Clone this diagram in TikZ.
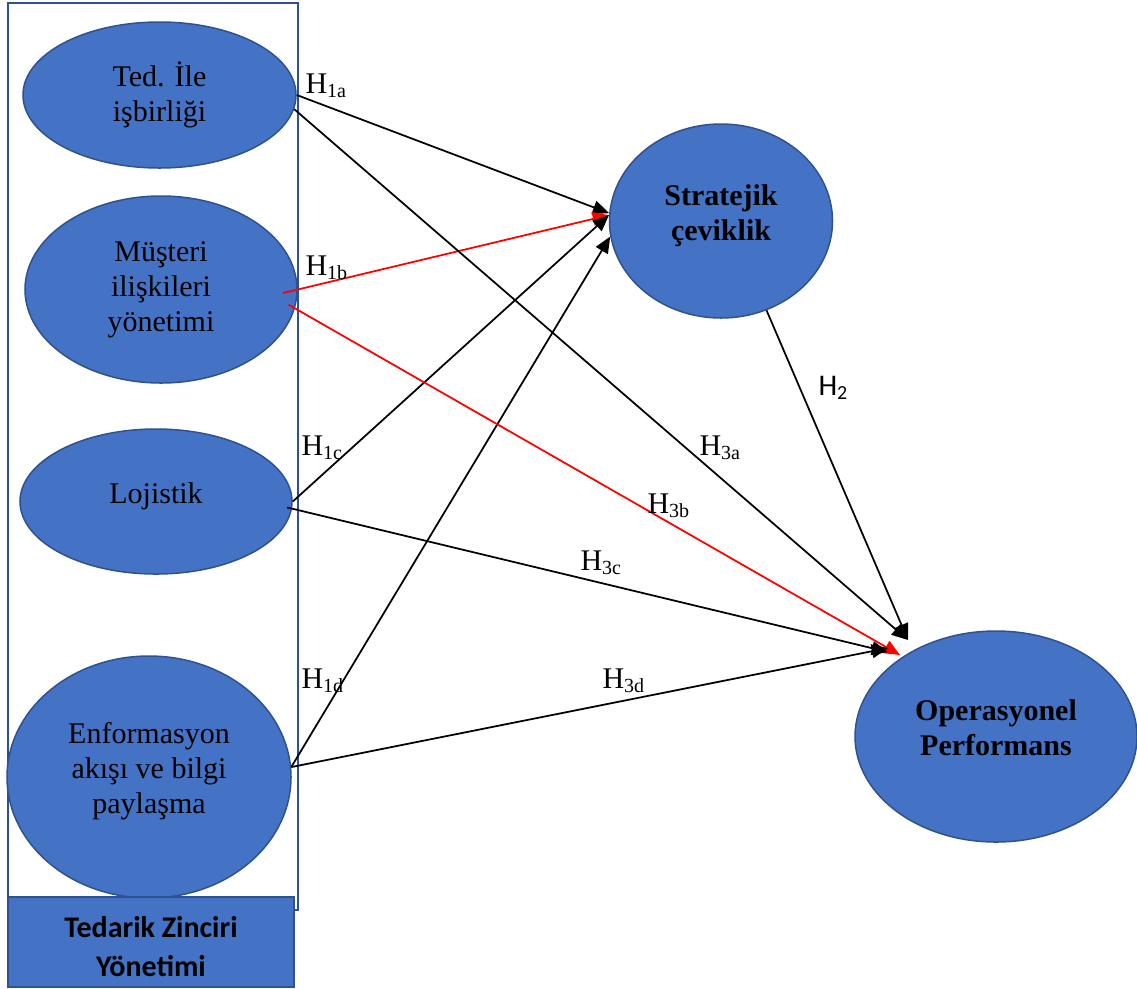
\documentclass[tikz,border=0pt]{standalone}
\usepackage{fontspec}
\setmainfont{Liberation Serif}
\newfontfamily\calibri{Carlito}
\usepackage{tikz}
\usetikzlibrary{shapes.geometric,arrows.meta}
\definecolor{nodeblue}{HTML}{4472C4}
\definecolor{edgeblue}{HTML}{2F528F}
\tikzstyle{construct} = [ellipse, draw=edgeblue, fill=nodeblue, line width=0.6pt,
    align=center, inner sep=0pt, font=\fontsize{12}{14}\selectfont]
\tikzstyle{hyp} = [draw, line width=0.7pt, -{Triangle[length=6.5pt,width=5.5pt]}]
\tikzstyle{hlabel} = [anchor=base west, inner sep=0pt, font=\fontsize{12}{14}\selectfont]

\begin{document}
\begin{tikzpicture}[x=0.4pt, y=-0.4pt]
		\useasboundingbox (0,0) rectangle (1137,988);
		% supply chain group
		\node [draw=edgeblue, line width=0.8pt, inner sep=0pt,
			minimum width=116pt, minimum height=362.8pt] (scm) at (153,456.5) {};
		
		\node [construct, minimum width=109.2pt, minimum height=58.4pt] (ted) at (159.5,95) {Ted. İle\\
			işbirliği};
		\node [construct, minimum width=108.8pt, minimum height=74.8pt] (mus) at (161,289.5) {Müşteri\\
			ilişkileri\\
			yönetimi};
		\node [construct, minimum width=108.8pt, minimum height=58pt, text depth=7pt] (loj) at (156,501.5) {Lojistik};
		\node [construct, minimum width=113.6pt, minimum height=96.8pt, text depth=7pt] (enf) at (149,777) {Enformasyon\\
			akışı ve bilgi\\
			paylaşma};
		\node [construct, minimum width=89.2pt, minimum height=77.6pt, text depth=7pt,
			font=\fontsize{12}{14}\selectfont\bfseries] (strat) at (721,221) {Stratejik\\
			çeviklik};
		\node [construct, minimum width=112.8pt, minimum height=84.4pt, text depth=7pt,
			font=\fontsize{12}{14}\selectfont\bfseries] (op) at (996,736.5) {Operasyonel\\
			Performans};
		
		\draw [hyp] (ted.east) -- (strat.176);
		\draw [hyp, red, shorten <=-6pt] (mus.east) -- (strat.177);
		\draw [hyp] (loj.east) -- (strat.177);
		\draw [hyp] (enf.4) -- (strat.188);
		\draw [hyp] (ted.354) -- ([shift={(-88,-96.5)}]op.center);
		\draw [hyp, red, shorten <=-3pt] (mus.352) -- ([shift={(-96,-81.5)}]op.center);
		\draw [hyp, shorten <=-2pt] (loj.357) -- ([shift={(-108,-84.5)}]op.center);
		\draw [hyp] (enf.4) -- ([shift={(-108,-88.5)}]op.center);
		\draw [hyp] (strat.297) -- ([shift={(-88,-96.5)}]op.center);
		
		\node [hlabel] (h1a) at (305,93) {H\textsubscript{1a}};
		\node [hlabel] (h1b) at (305,275) {H\textsubscript{1b}};
		\node [hlabel] (h1c) at (301,455) {H\textsubscript{1c}};
		\node [hlabel] (h1d) at (301,688) {H\textsubscript{1d}};
		\node [hlabel, font=\calibri\fontsize{12}{14}\selectfont] (h2) at (818,395) {H\textsubscript{2}};
		\node [hlabel] (h3a) at (699,455) {H\textsubscript{3a}};
		\node [hlabel] (h3b) at (647,513) {H\textsubscript{3b}};
		\node [hlabel] (h3c) at (580,570) {H\textsubscript{3c}};
		\node [hlabel] (h3d) at (602,688) {H\textsubscript{3d}};
		
		\node [draw=edgeblue, fill=nodeblue, line width=0.8pt, inner sep=0pt,
			minimum width=114.4pt, minimum height=36pt, align=center, text height=27.6pt,
			font=\calibri\bfseries\fontsize{12}{15.6}\selectfont] (tzy) at (151,942) {Tedarik Zinciri\\
			Yönetimi};
		
		\end{tikzpicture}
\end{document}
